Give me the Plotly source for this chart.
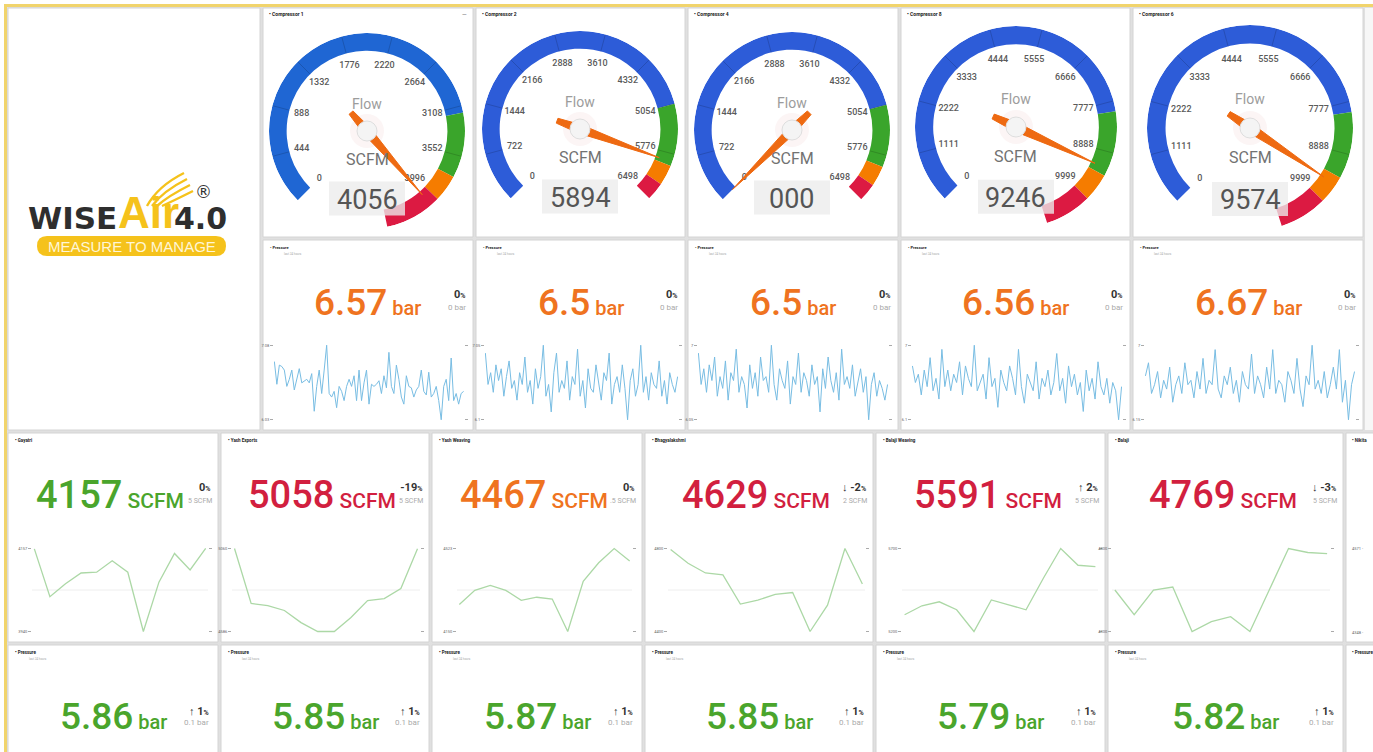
import plotly.graph_objects as go

W, H = 1373, 752
FONT = "Roboto"

# ---------------- data ----------------
gauge_titles = ["Compressor 1", "Compressor 2", "Compressor 4", "Compressor 8", "Compressor 6"]
gauge_values = [4056, 5894, 0, 9246, 9574]
gauge_value_text = ["4056", "5894", "000", "9246", "9574"]
gauge_ticks = [
    [0, 444, 888, 1332, 1776, 2220, 2664, 3108, 3552, 3996],
    [0, 722, 1444, 2166, 2888, 3610, 4332, 5054, 5776, 6498],
    [0, 722, 1444, 2166, 2888, 3610, 4332, 5054, 5776, 6498],
    [0, 1111, 2222, 3333, 4444, 5555, 6666, 7777, 8888, 9999],
    [0, 1111, 2222, 3333, 4444, 5555, 6666, 7777, 8888, 9999],
]
gauge_bands = [
    [0, 3170, 3745, 3980, 4485],
    [0, 5054, 5950, 6240, 6498],
    [0, 5054, 5950, 6240, 6498],
    [0, 8000, 9400, 9999, 11000],
    [0, 8000, 9400, 9999, 11000],
]

pressure_titles = ["Pressure", "Pressure", "Pressure", "Pressure", "Pressure"]
pressure_values = [6.57, 6.5, 6.5, 6.56, 6.67]
pressure_delta = [0, 0, 0, 0, 0]
pressure_delta_abs = ["0 bar", "0 bar", "0 bar", "0 bar", "0 bar"]
pressure_series = [
    [6.85, 6.53, 6.80, 6.78, 6.73, 6.50, 6.60, 6.73, 6.45, 6.60, 6.75, 6.55, 6.58, 6.60, 6.55, 6.68,
     6.15, 6.50, 6.73, 6.40, 6.73, 7.08, 6.40, 6.35, 6.43, 6.20, 6.50, 6.43, 6.30, 6.50, 6.60, 6.50,
     6.65, 6.30, 6.73, 6.30, 6.55, 6.73, 6.25, 6.53, 6.50, 6.53, 6.58, 6.40, 6.65, 6.48, 6.98, 6.50,
     6.40, 6.80, 6.60, 6.35, 6.25, 6.65, 6.50, 6.48, 6.35, 6.45, 6.50, 6.73, 6.43, 6.38, 6.70, 6.35,
     6.40, 6.50, 6.30, 6.03, 6.50, 6.60, 6.30, 6.90, 6.30, 6.40, 6.25, 6.40, 6.43],
    [6.95, 6.55, 6.70, 6.45, 6.80, 6.60, 6.75, 6.40, 6.65, 6.85, 6.50, 6.60, 6.35, 6.70, 6.55, 6.90,
     6.45, 6.60, 6.30, 6.75, 6.50, 6.65, 7.05, 6.40, 6.55, 6.20, 6.70, 6.95, 6.45, 6.60, 6.50, 6.85,
     6.35, 6.65, 6.55, 7.00, 6.40, 6.60, 6.25, 6.75, 6.50, 6.45, 6.80, 6.55, 6.35, 6.70, 6.60, 6.95,
     6.30, 6.55, 6.65, 6.45, 6.80, 6.50, 6.10, 6.60, 6.75, 6.40, 6.55, 7.05, 6.45, 6.65, 6.35, 6.70,
     6.55, 6.50, 6.85, 6.40, 6.60, 6.30, 6.70, 6.55, 6.45, 6.65],
    [6.90, 6.50, 6.70, 6.40, 6.75, 6.55, 6.85, 6.35, 6.60, 6.45, 6.80, 6.30, 6.65, 6.55, 6.95, 6.40,
     6.60, 6.50, 6.20, 6.75, 6.45, 6.65, 6.35, 6.85, 6.55, 6.60, 6.40, 7.00, 6.50, 6.30, 6.70, 6.55,
     6.45, 6.80, 6.25, 6.60, 6.50, 6.90, 6.40, 6.65, 6.55, 6.35, 6.75, 6.50, 6.60, 6.15, 6.70, 6.45,
     6.85, 6.55, 6.40, 6.65, 6.30, 6.95, 6.50, 6.60, 6.45, 6.75, 6.35, 6.55, 6.70, 6.40, 6.60, 6.05,
     6.50, 6.65, 6.35, 6.55, 6.45, 6.30, 6.50],
    [6.75, 6.55, 6.65, 6.40, 6.70, 6.50, 6.85, 6.45, 6.60, 6.35, 6.95, 6.50, 6.70, 6.45, 6.65, 6.55,
     6.80, 6.40, 6.75, 6.60, 6.50, 7.00, 6.45, 6.55, 6.65, 6.35, 6.85, 6.50, 6.60, 6.25, 6.70, 6.55,
     6.45, 6.75, 6.60, 6.40, 6.95, 6.50, 6.30, 6.65, 6.55, 6.45, 6.80, 6.35, 6.60, 6.50, 6.70, 6.40,
     6.55, 6.90, 6.45, 6.60, 6.30, 6.75, 6.50, 6.65, 6.40, 6.55, 6.20, 6.70, 6.45, 6.60, 6.35, 6.80,
     6.50, 6.40, 6.60, 6.30, 6.55, 6.45, 6.10, 6.50],
    [6.65, 6.80, 6.45, 6.55, 6.70, 6.40, 6.60, 6.50, 6.75, 6.35, 6.55, 6.65, 6.45, 6.80, 6.55, 6.60,
     6.40, 6.70, 6.50, 6.85, 6.45, 6.60, 6.55, 6.95, 6.50, 6.40, 6.65, 6.55, 6.75, 6.45, 6.60, 6.35,
     6.70, 6.55, 6.50, 6.90, 6.45, 6.65, 6.55, 6.40, 6.75, 6.50, 6.95, 6.45, 6.60, 6.55, 6.35, 6.70,
     6.60, 6.45, 6.85, 6.50, 6.30, 6.65, 6.55, 7.00, 6.50, 6.60, 6.45, 6.70, 6.40, 6.55, 6.75, 6.50,
     6.95, 6.35, 6.60, 6.15, 6.55, 6.70],
]

flow_titles = ["Gayatri", "Yash Exports", "Yash Weaving", "Bhagyalakshmi", "Balaji Weaving", "Balaji"]
flow_values = [4157, 5058, 4467, 4629, 5591, 4769]
flow_delta = [0, -19, 0, -2, 2, -3]
flow_delta_abs = ["5 SCFM", "5 SCFM", ".5 SCFM", "2 SCFM", "5 SCFM", "5 SCFM"]
flow_status = ["ok", "high", "warn", "high", "high", "high"]
flow_series = [
    [4156, 4031, 4065, 4093, 4095, 4125, 4095, 3940, 4069, 4144, 4101, 4157],
    [5060, 4746, 4734, 4706, 4637, 4586, 4586, 4666, 4763, 4774, 4831, 5058],
    [4271, 4335, 4357, 4335, 4290, 4304, 4296, 4150, 4375, 4459, 4523, 4467],
    [4795, 4729, 4682, 4673, 4532, 4551, 4579, 4588, 4400, 4527, 4800, 4629],
    [5301, 5355, 5379, 5331, 5200, 5390, 5361, 5331, 5521, 5700, 5599, 5591],
    [4550, 4401, 4550, 4568, 4300, 4360, 4389, 4300, 4550, 4800, 4776, 4769],
]

line_pressure_titles = ["Pressure"] * 6
line_pressure_values = [5.86, 5.85, 5.87, 5.85, 5.79, 5.82]
line_pressure_delta = [1, 1, 1, 1, 1, 1]
line_pressure_delta_abs = ["0.1 bar"] * 6

# ---------------- layout geometry / styles ----------------
status_color = {"ok": "#4aa52c", "warn": "#ef7320", "high": "#d21f3f"}
band_colors = ["#2d5cd8", "#3aa52b", "#f57c00", "#dc1a42"]
needle_color = "#ee6a12"

logo_box = (8, 8, 260, 430)
row12_x = [(263, 473), (476, 685), (688, 898), (901, 1130), (1133, 1363)]
row1_y = (8, 237)
row2_y = (240, 430)
row34_x = [(8, 218), (221, 429), (432, 642), (645, 873), (876, 1105), (1108, 1343), (1346, 1380)]
row3_y = (433, 642)
row4_y = (645, 760)
gauge_geom = [(367, 131, 98), (580, 129, 98), (792, 130, 98), (1016, 127, 101), (1250, 128, 103)]
pspark_x = [(274, 464), (485, 678), (698, 888), (912, 1122), (1145, 1355)]
pspark_y = (345, 420)
fspark_x = [(32, 208), (232, 420), (457, 632), (668, 865), (902, 1098), (1112, 1330)]
fspark_y = (548, 632)

fig = go.Figure()
shapes, anns = [], []
layout = {}


def X(px):
    return px / W


def Y(py):
    return 1 - py / H


def P(x, y):
    return f"{X(x):.5f},{Y(y):.5f}"


def rect(x0, y0, x1, y1, fill, line_color=None, layer="below", lw=1):
    shapes.append(dict(type="rect", xref="paper", yref="paper",
                       x0=X(x0), x1=X(x1), y0=Y(y1), y1=Y(y0), fillcolor=fill,
                       line=dict(width=lw if line_color else 0, color=line_color or fill),
                       layer=layer))


def label(x, y, s, size, color, xa="center", ya="middle", weight="normal",
          family=FONT, bg="rgba(0,0,0,0)"):
    anns.append(dict(x=X(x), y=Y(y), xref="paper", yref="paper", text=s, showarrow=False,
                     xanchor=xa, yanchor=ya, bgcolor=bg, borderpad=0,
                     font=dict(size=size, color=color, family=family, weight=weight)))


# background frame
rect(0, 0, W, 4, "#ffffff")
rect(0, 0, 4, H, "#ffffff")
rect(4, 4, W, 7, "#f1d46c")
rect(4, 4, 7, H, "#f1d46c")

# panels
rect(*logo_box, "#ffffff", "#d4d4d4")
for (x0, x1) in row12_x:
    rect(x0, row1_y[0], x1, row1_y[1], "#ffffff", "#d4d4d4")
    rect(x0, row2_y[0], x1, row2_y[1], "#ffffff", "#d4d4d4")
rect(1365, 8, W + 5, 430, "#f7f7f7")
for (x0, x1) in row34_x:
    rect(x0, row3_y[0], x1, row3_y[1], "#ffffff", "#d4d4d4")
    rect(x0, row4_y[0], x1, row4_y[1], "#ffffff", "#d4d4d4")

# ---------------- logo ----------------
yel = "#f5c21b"
label(118, 218, "<b>WISE</b>", 31, "#2e2e2e", xa="right", family="DejaVu Sans")
label(117, 212, "<b>Air</b>", 44, yel, xa="left", family="Liberation Sans")
label(228, 218, "<b>4.0</b>", 30, "#2e2e2e", xa="right", family="DejaVu Sans")
label(203, 192, "®", 17, "#333333", family="DejaVu Sans")
for k in range(4):
    d = 5 * k
    shapes.append(dict(type="path", xref="paper", yref="paper", layer="above",
                       path=f"M {P(147 + d, 206)} Q {P(158 + d, 186 + d)} {P(184 + d * 0.6, 173 + d * 1.2)}",
                       line=dict(color=yel, width=2.4)))
pill = (f"M {P(47, 236)} L {P(216, 236)} Q {P(226, 236)} {P(226, 246)} Q {P(226, 256)} {P(216, 256)} "
        f"L {P(47, 256)} Q {P(37, 256)} {P(37, 246)} Q {P(37, 236)} {P(47, 236)} Z")
shapes.append(dict(type="path", xref="paper", yref="paper", path=pill, fillcolor=yel,
                   line=dict(width=0), layer="above"))
label(131.5, 246.5, "MEASURE TO MANAGE", 15, "#fff6d6", family="Liberation Sans")

# ---------------- gauges ----------------
for i in range(5):
    cx, cy, R = gauge_geom[i]
    pname = "polar" if i == 0 else f"polar{i + 1}"
    ticks = gauge_ticks[i]
    k = 270.0 / ticks[-1]
    layout[pname] = dict(
        domain=dict(x=[X(cx - R), X(cx + R)], y=[Y(cy + R), Y(cy - R)]),
        bgcolor="rgba(0,0,0,0)",
        radialaxis=dict(visible=False, range=[0, 1]),
        angularaxis=dict(visible=False, rotation=225, direction="clockwise",
                         showgrid=False, showline=False, ticks=""),
    )
    b = gauge_bands[i]
    cols = list(band_colors)
    if i == 0:
        cols[0] = "#1f66d3"
    fig.add_trace(go.Barpolar(
        r=[0.18] * 4, base=[0.82] * 4,
        theta=[(b[j] + b[j + 1]) / 2 * k for j in range(4)],
        width=[(b[j + 1] - b[j]) * k for j in range(4)],
        marker=dict(color=cols, line=dict(width=0)),
        subplot=pname, hoverinfo="skip", showlegend=False))
    sr, st = [], []
    for t in ticks[1:-1]:
        sr += [0.82, 1.0, None]
        st += [t * k, t * k, None]
    fig.add_trace(go.Scatterpolar(r=sr, theta=st, mode="lines",
                                  line=dict(color="rgba(0,0,0,0.16)", width=1),
                                  subplot=pname, hoverinfo="skip", showlegend=False))
    fig.add_trace(go.Scatterpolar(
        r=[0.69] * len(ticks), theta=[t * k for t in ticks], mode="text",
        text=[str(t) for t in ticks],
        textfont=dict(size=9, color="#5a5a5a", family=FONT, weight=500),
        subplot=pname, hoverinfo="skip", showlegend=False))
    a = gauge_values[i] * k
    fig.add_trace(go.Scatterpolar(r=[0], theta=[0], mode="markers",
                                  marker=dict(size=34, color="rgba(225,160,160,0.10)", line=dict(width=0)),
                                  subplot=pname, hoverinfo="skip", showlegend=False))
    fig.add_trace(go.Scatterpolar(
        r=[0.86, 0.045, 0.25, 0.25, 0.045, 0.86],
        theta=[a, a + 90, a + 174, a + 186, a + 270, a],
        mode="lines", fill="toself", fillcolor=needle_color,
        line=dict(color=needle_color, width=1),
        subplot=pname, hoverinfo="skip", showlegend=False))
    fig.add_trace(go.Scatterpolar(r=[0], theta=[0], mode="markers",
                                  marker=dict(size=20, color="#f4f4f4",
                                              line=dict(width=1, color="#dedede")),
                                  subplot=pname, hoverinfo="skip", showlegend=False))
    # text
    label(cx, cy - 0.28 * R, "Flow", 14, "#9c9c9c")
    label(cx, cy + 0.29 * R, "SCFM", 16, "#727272")
    bc = cy + 0.69 * R
    rect(cx - 38, bc - 17, cx + 38, bc + 17, "rgba(236,236,236,0.78)", layer="above")
    label(cx, bc + 1, gauge_value_text[i], 27, "#555555")
    x0 = row12_x[i][0]
    label(x0 + 5, 14, "• " + gauge_titles[i], 5, "#222222", xa="left", weight="bold")
label(464, 14, "—", 6, "#555555")

# ---------------- sparklines ----------------
axis_n = [0]


def spark(xr, yr, vals, color, lw, mid=False, fmt="{:g}"):
    axis_n[0] += 1
    n = axis_n[0]
    sx = "" if n == 1 else str(n)
    mn, mx = min(vals), max(vals)
    pad = (mx - mn) * 0.03
    fig.add_trace(go.Scatter(x=list(range(len(vals))), y=vals, mode="lines",
                             line=dict(color=color, width=lw),
                             xaxis="x" + sx, yaxis="y" + sx, hoverinfo="skip", showlegend=False))
    layout["xaxis" + sx] = dict(domain=[X(xr[0]), X(xr[1])], anchor="y" + sx, visible=False,
                                range=[-0.15, len(vals) - 0.85], fixedrange=True)
    layout["yaxis" + sx] = dict(domain=[Y(yr[1] + 2), Y(yr[0] - 2)], anchor="x" + sx,
                                range=[mn - pad, mx + pad], showgrid=False, zeroline=False,
                                showline=False, tickvals=[mn, mx],
                                ticktext=[fmt.format(mn), fmt.format(mx)],
                                tickfont=dict(size=4, color="#666666", family=FONT),
                                ticks="outside", ticklen=3, tickcolor="#aaaaaa",
                                mirror="ticks", fixedrange=True)
    if mid:
        shapes.append(dict(type="line", xref=f"x{sx} domain", yref=f"y{sx} domain",
                           x0=0, x1=1, y0=0.5, y1=0.5, layer="below",
                           line=dict(color="#eeeeee", width=1)))


def delta_text(d):
    arrow = "↑ " if d > 0 else ("↓ " if d < 0 else "")
    return f"<b>{arrow}{d}</b><span style='font-size:7px'><b>%</b></span>"


# row 2: pressure
for i in range(5):
    x0, x1 = row12_x[i]
    label(x0 + 6, 247, "• " + pressure_titles[i], 4, "#222222", xa="left", weight="bold")
    label(x0 + 20, 254, "last 24 hours", 3, "#aaaaaa", xa="left")
    cxp = (x0 + x1) / 2
    label(cxp, 302, f"{pressure_values[i]:g}<span style='font-size:20px'> bar</span>",
          37, "#ef7320", weight=500)
    label(x1 - 6, 294, delta_text(pressure_delta[i]), 11, "#333333", xa="right")
    label(x1 - 6, 308, pressure_delta_abs[i], 8, "#aaaaaa", xa="right")
    spark(pspark_x[i], pspark_y, pressure_series[i], "#78bde3", 1)

# row 3: flow
for i in range(6):
    x0, x1 = row34_x[i]
    label(x0 + 6, 440, "• " + flow_titles[i], 4.5, "#222222", xa="left", weight="bold")
    label(x1 - 5, 501, flow_delta_abs[i], 7, "#aaaaaa", xa="right")
    label(x1 - 6, 487, delta_text(flow_delta[i]), 11, "#333333", xa="right")
    cxp = (x0 + x1) / 2
    label(cxp - 3, 495, f"{flow_values[i]}<span style='font-size:21px'> SCFM</span>",
          38, status_color[flow_status[i]], weight=500, bg="#ffffff")
    spark(fspark_x[i], fspark_y, flow_series[i], "#acd8a6", 1.3, mid=True, fmt="{:.0f}")

# partial 7th panel
label(1351, 440, "• Nikita", 4.5, "#222222", xa="left", weight="bold")
label(1351, 548, "4571 -", 4, "#666666", xa="left")
label(1351, 632, "4348 -", 4, "#666666", xa="left")
label(1351, 652, "• Pressure", 4.5, "#222222", xa="left", weight="bold")

# row 4: line pressure
for i in range(6):
    x0, x1 = row34_x[i]
    label(x0 + 6, 652, "• " + line_pressure_titles[i], 4.5, "#222222", xa="left", weight="bold")
    label(x0 + 20, 659, "last 24 hours", 3, "#aaaaaa", xa="left")
    cxp = (x0 + x1) / 2
    label(cxp, 716, f"{line_pressure_values[i]:g}<span style='font-size:20px'> bar</span>",
          37, "#4aa52c", weight=500)
    label(x1 - 8, 711, delta_text(line_pressure_delta[i]), 11, "#333333", xa="right")
    label(x1 - 8, 722, line_pressure_delta_abs[i], 8, "#aaaaaa", xa="right")

fig.update_layout(
    width=W, height=H, autosize=False,
    margin=dict(l=0, r=0, t=0, b=0, pad=0),
    paper_bgcolor="#e0e0e0", plot_bgcolor="rgba(0,0,0,0)",
    showlegend=False, shapes=shapes, annotations=anns,
    font=dict(family=FONT),
    **layout,
)
fig.write_html("out.html", config={"displayModeBar": False},
               post_script="document.body.style.margin='0px';document.body.style.overflow='hidden';")
